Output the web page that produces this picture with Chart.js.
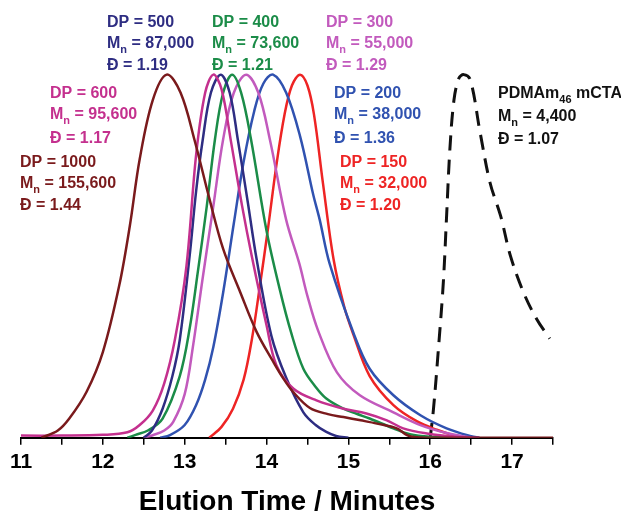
<!DOCTYPE html>
<html lang="en">
<head>
  <meta charset="UTF-8" />
  <title>GPC traces - PDMAm block copolymers</title>
  <script src="https://cdn.jsdelivr.net/npm/chart.js"></script>
  <style>
    body { margin: 0; background: #fff; }
    #wrap { width: 621px; height: 515px; }
  </style>
</head>
<body>
  <div id="wrap"><canvas id="gpc" width="621" height="515"></canvas></div>
  <script>
    // elution time (min) and normalised RI signal
    const dp1000Time   = [11.25, 11.45, 11.59, 11.80, 12.00, 12.20, 12.33, 12.45, 12.61, 12.78, 12.95, 13.12, 13.30, 13.47, 13.68, 13.88, 14.08, 14.20, 14.33, 14.53, 14.75, 14.94, 15.15, 15.35, 15.59, 15.71, 15.80, 16.00, 17.50];
    const dp1000Signal = [0, 0.02, 0.053, 0.126, 0.236, 0.419, 0.584, 0.767, 0.93, 1.0, 0.95, 0.82, 0.66, 0.52, 0.40, 0.291, 0.21, 0.165, 0.125, 0.082, 0.065, 0.057, 0.048, 0.039, 0.026, 0.008, 0.002, 0, 0];

    const dp600Time   = [11.00, 11.50, 12.00, 12.30, 12.45, 12.61, 12.75, 12.88, 13.02, 13.14, 13.25, 13.35, 13.45, 13.57, 13.70, 13.82, 14.00, 14.12, 14.33, 14.61, 14.94, 15.22, 15.47, 15.67, 15.96, 16.30, 16.60];
    const dp600Signal = [0.006, 0.006, 0.008, 0.015, 0.035, 0.075, 0.15, 0.27, 0.47, 0.78, 0.95, 1.0, 0.96, 0.81, 0.64, 0.5, 0.31, 0.2, 0.135, 0.103, 0.08, 0.067, 0.048, 0.026, 0.012, 0.003, 0];

    const dp500Time   = [12.50, 12.60, 12.73, 12.85, 12.94, 13.06, 13.14, 13.22, 13.32, 13.44, 13.55, 13.65, 13.77, 13.88, 14.06, 14.24, 14.45, 14.60, 14.73, 14.85, 15.00];
    const dp500Signal = [0, 0.02, 0.08, 0.17, 0.27, 0.5, 0.68, 0.82, 0.95, 1.0, 0.95, 0.82, 0.65, 0.49, 0.28, 0.165, 0.07, 0.035, 0.016, 0.005, 0];

    const dp400Time   = [12.30, 12.40, 12.55, 12.73, 12.94, 13.06, 13.16, 13.27, 13.37, 13.47, 13.58, 13.69, 13.81, 14.00, 14.16, 14.30, 14.45, 14.60, 14.73, 14.94, 15.10, 15.26, 15.55, 15.75, 16.00, 16.40];
    const dp400Signal = [0, 0.008, 0.02, 0.053, 0.17, 0.3, 0.456, 0.638, 0.822, 0.95, 1.0, 0.95, 0.822, 0.57, 0.41, 0.29, 0.19, 0.14, 0.108, 0.08, 0.066, 0.053, 0.026, 0.01, 0.003, 0];

    const dp300Time   = [12.50, 12.61, 12.75, 12.86, 13.00, 13.10, 13.22, 13.35, 13.47, 13.60, 13.75, 13.90, 14.04, 14.24, 14.40, 14.50, 14.63, 14.86, 15.14, 15.55, 15.88, 16.20, 16.50];
    const dp300Signal = [0, 0.007, 0.02, 0.044, 0.12, 0.25, 0.44, 0.638, 0.822, 0.95, 1.0, 0.95, 0.822, 0.6, 0.48, 0.39, 0.295, 0.18, 0.117, 0.07, 0.035, 0.013, 0];

    const dp200Time   = [12.70, 12.82, 13.00, 13.14, 13.25, 13.35, 13.47, 13.60, 13.72, 13.85, 13.96, 14.08, 14.24, 14.41, 14.57, 14.65, 14.77, 15.06, 15.26, 15.55, 15.88, 16.20, 16.50, 16.60];
    const dp200Signal = [0, 0.007, 0.035, 0.09, 0.16, 0.25, 0.40, 0.59, 0.76, 0.90, 0.975, 1.0, 0.95, 0.83, 0.67, 0.6, 0.48, 0.29, 0.19, 0.117, 0.062, 0.026, 0.004, 0];

    const dp150Time   = [13.30, 13.45, 13.59, 13.72, 13.82, 13.92, 14.02, 14.12, 14.22, 14.31, 14.41, 14.50, 14.58, 14.69, 14.82, 14.95, 15.06, 15.26, 15.55, 15.84, 16.08, 16.30, 16.45];
    const dp150Signal = [0, 0.03, 0.08, 0.16, 0.27, 0.42, 0.58, 0.75, 0.89, 0.97, 1.0, 0.97, 0.89, 0.70, 0.49, 0.36, 0.285, 0.17, 0.09, 0.045, 0.022, 0.006, 0];

    const mctaTime   = [16.00, 16.04, 16.10, 16.16, 16.20, 16.24, 16.29, 16.35, 16.41, 16.49, 16.61, 16.73, 16.86, 16.98, 17.14, 17.30, 17.46];
    const mctaSignal = [0, 0.08, 0.245, 0.428, 0.611, 0.794, 0.93, 0.99, 1.0, 0.986, 0.84, 0.703, 0.611, 0.501, 0.40, 0.327, 0.273];

    const axisLabels = [11, 12, 13, 14, 15, 16, 17];

    // text for each trace; ~n~ marks a subscript
    const dp500Text  = ['DP = 500', 'M~n~ = 87,000', 'Đ = 1.19'];
    const dp400Text  = ['DP = 400', 'M~n~ = 73,600', 'Đ = 1.21'];
    const dp300Text  = ['DP = 300', 'M~n~ = 55,000', 'Đ = 1.29'];
    const dp600Text  = ['DP = 600', 'M~n~ = 95,600', 'Đ = 1.17'];
    const dp200Text  = ['DP = 200', 'M~n~ = 38,000', 'Đ = 1.36'];
    const dp1000Text = ['DP = 1000', 'M~n~ = 155,600', 'Đ = 1.44'];
    const dp150Text  = ['DP = 150', 'M~n~ = 32,000', 'Đ = 1.20'];
    const mctaText   = ['PDMAm~46~ mCTA', 'M~n~ = 4,400', 'Đ = 1.07'];

    const FONT = '"Liberation Sans", Arial, Helvetica, sans-serif';

    const traces = [
      { t: dp1000Time, y: dp1000Signal, color: '#7a1a1c' },
      { t: dp600Time,  y: dp600Signal,  color: '#c4308e' },
      { t: dp500Time,  y: dp500Signal,  color: '#2e2d82' },
      { t: dp400Time,  y: dp400Signal,  color: '#1b8c48' },
      { t: dp300Time,  y: dp300Signal,  color: '#c25abd' },
      { t: dp200Time,  y: dp200Signal,  color: '#3052b0' },
      { t: dp150Time,  y: dp150Signal,  color: '#ee2424' },
      { t: mctaTime,   y: mctaSignal,   color: '#111111', dash: [15, 9], width: 3 }
    ];

    // label placement (pixels: left edge, baselines of the three lines)
    const labels = [
      { text: dp500Text,  color: '#2e2d82', x: 107, rows: [27, 47.5, 70] },
      { text: dp400Text,  color: '#1b8c48', x: 212, rows: [27, 47.5, 70] },
      { text: dp300Text,  color: '#c25abd', x: 326, rows: [27, 47.5, 70] },
      { text: dp600Text,  color: '#c4308e', x: 50,  rows: [98, 119, 142.5] },
      { text: dp200Text,  color: '#3052b0', x: 334, rows: [98, 119, 142.5] },
      { text: mctaText,   color: '#111111', x: 498, rows: [98, 121, 144] },
      { text: dp1000Text, color: '#7a1a1c', x: 20,  rows: [167, 188, 210] },
      { text: dp150Text,  color: '#ee2424', x: 340, rows: [167, 188, 210] }
    ];

    const labelPlugin = {
      id: 'traceLabels',
      afterDraw(chart) {
        const ctx = chart.ctx;
        ctx.save();
        ctx.textBaseline = 'alphabetic';
        ctx.textAlign = 'left';
        labels.forEach(l => {
          ctx.fillStyle = l.color;
          l.text.forEach((line, i) => {
            let x = l.x;
            const y = l.rows[i];
            line.split('~').forEach((part, k) => {
              if (!part) return;
              const sub = k % 2 === 1;
              ctx.font = sub ? 'bold 11px ' + FONT : 'bold 16px ' + FONT;
              ctx.fillText(part, x, sub ? y + 5 : y);
              x += ctx.measureText(part).width;
            });
          });
        });
        ctx.restore();
      }
    };

    const ctx = document.getElementById('gpc').getContext('2d');
    new Chart(ctx, {
      type: 'line',
      data: {
        datasets: traces.map(tr => ({
          data: tr.t.map((t, i) => ({ x: t, y: tr.y[i] })),
          borderColor: tr.color,
          borderWidth: tr.width || 2.5,
          borderDash: tr.dash || [],
          pointRadius: 0,
          fill: false,
          tension: 0.35
        }))
      },
      options: {
        responsive: false,
        animation: false,
        layout: { padding: { left: 21, right: 68, top: 10, bottom: 0 } },
        plugins: { legend: { display: false }, tooltip: { enabled: false } },
        scales: {
          x: {
            type: 'linear',
            min: 11,
            max: 17.5,
            border: { color: '#000', width: 2 },
            grid: { drawOnChartArea: false, color: '#000', lineWidth: 1.5, tickLength: 7 },
            ticks: {
              stepSize: 0.5,
              autoSkip: false,
              maxRotation: 0,
              color: '#000',
              padding: 5,
              font: { family: FONT, size: 21, weight: 'bold' },
              callback: v => axisLabels.includes(v) ? String(v) : ''
            },
            title: {
              display: true,
              text: 'Elution Time / Minutes',
              color: '#000',
              font: { family: FONT, size: 28, weight: 'bold', lineHeight: 0.93 },
              padding: { top: 9, bottom: 0 }
            }
          },
          y: { display: false, min: 0, max: 1.178 }
        }
      },
      plugins: [labelPlugin]
    });
  </script>
</body>
</html>
